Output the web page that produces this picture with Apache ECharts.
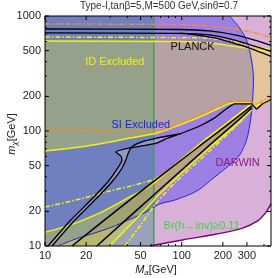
<!DOCTYPE html>
<html><head><meta charset="utf-8">
<script src="https://cdn.jsdelivr.net/npm/echarts@6/dist/echarts.min.js"></script>
<style>html,body{margin:0;padding:0;background:#fff}#c{width:274px;height:278px}</style>
</head><body><div id="c"></div>
<script>
// ---- axes ----
const xLimit = [10, 450];
const yLimit = [10, 1000];
const xTicksMajor = [10, 20, 50, 100, 200, 300];
const xTicksMinor = [30, 40, 60, 70, 80, 90, 400];
const yTicksMajor = [10, 20, 50, 100, 200, 500, 1000];
const yTicksMinor = [30, 40, 60, 70, 80, 90, 300, 400, 600, 700, 800, 900];
const higgsThreshold = 62.5;

// ---- curves (M_a [GeV], m_chi [GeV]) ----
const darwinCurve = [[58.4,10],[101.6,11.3],[180,12.7],[279,14.3],[359,16.5],[410,19.4],[450,23.2]];
const siCurve = [[224,1000],[265,787],[298,618],[324,414],[335,278],[330,186],[319,125],[298,83.5],[265,61.8],[224,50.6],[174,39.8],[129,30.1],[89,25.1],[69,23.2],[58.4,20.6],[49.4,18.6],[40.4,16.8],[30.8,14.6],[23.2,13.0],[17.4,11.7],[14.0,10.6],[12.4,10]];
const idTopSolid = [[10,606],[97,600],[160,582],[265,537],[450,484]];
const idUpperBoundary = [[10,67],[18,72.6],[29.8,80.2],[41.7,86.9],[65.7,96],[96.7,113],[135,132],[189,158.5],[236,175],[313,175],[347,165],[383,172],[450,188]];
const idLowerL = [[10,13.2],[15.22,15.2],[25.2,19.4],[41.7,26.7],[58.4,33.2],[85.9,48.6],[135.2,77.1],[224,122],[324.3,172]];
const idLowerR = [[29.8,10],[53.7,20.6],[69,28.3],[96.7,41.4],[160,71.2],[265,120],[324.3,152]];
const idLowerL2 = [[10,21.8],[18,25.6],[29.8,30.1],[45.4,33.9],[65.7,39],[96.7,54.8],[135.2,75.5],[224,122],[313.5,168]];
const idLowerR2 = [[38.4,10],[49.4,14.9],[63.5,22.7],[88.9,35.3],[160,67],[288,130]];
const planckTop1 = [[10,771],[96.7,763],[160,741],[243.7,684],[341,618],[450,556]];
const planckTop2 = [[10,712],[96.7,705],[160,684],[243.7,618],[341,548],[450,493]];
const planckTop3 = [[96.7,705],[114,697],[174,644],[265,560],[358.6,496],[450,446]];
const planckHook1 = [[10.52,10],[15.22,16.5],[22.03,25.6],[28.8,36],[34.1,47.7],[36.5,56],[35.9,60.6],[33.0,65.7],[41.7,71.2],[65.7,78.6],[79.1,86.9],[96.7,94.2],[135.2,110.5],[174.1,130],[216.6,158.5],[243.7,172],[324.3,172],[352.7,155.2],[390,172],[450,188]];
const planckHook2 = [[11.25,10],[16.28,16.5],[23.57,25.6],[30.8,36],[35.9,45.8],[39.0,56],[41.0,65.7],[43.9,74.1],[53.7,81.9],[65.7,86.9],[79.1,90.5],[96.7,94.2]];
const bandUpper = [[15.74,10],[32.4,19.8],[65.7,38.2],[135.2,74.1],[224,117],[324.3,165]];
const bandLower = [[23.97,10],[45.4,19.8],[85.9,39],[160,75.5],[265,127],[324.3,158.5]];
const orangeTop = [[10,851],[96.7,843],[189,802],[298,741],[450,652]];
const orangeMid = [[10,100],[65.7,100],[96.7,117],[135.2,138],[189,165],[235.6,182],[313.5,182],[352.7,172],[390,182],[450,199]];
const yellowTopDash = [[10,656],[135,644],[206,618],[288,571],[450,514]];

// ---- annotations ----
const annoTexts = ['ID Excluded', 'PLANCK', 'SI Excluded', 'DARWIN', 'Br(h\u2192inv)\u22650.11'];
const annoPos = [[32.4,398],[120.2,537],[50.2,113],[256.4,52.7],[140,14.9]];
const annoColors = ['#f2f200', '#111111', '#1c1cf0', '#8a1a8a', '#33dd33'];

const FONT = '"Liberation Sans", Arial, sans-serif';

// polygons built from curves
const darwinPoly = [[10,10]].concat(darwinCurve, [[450,1000],[10,1000]]);
const siPoly = [[10,1000]].concat(siCurve, [[10,10]]);
const greenPoly = [[10,10],[higgsThreshold,10],[higgsThreshold,1000],[10,1000]];
const id1Poly = idTopSolid.concat(idUpperBoundary.slice().reverse());
const id2Poly = idLowerL.concat(idLowerR.slice().reverse(), [[10,10]]);
const bandPoly = bandUpper.concat(bandLower.slice().reverse());
const hookPoly = planckHook1.slice(0, 12).concat(planckHook2.slice().reverse());

function polySeries(pts, fill, z) {
  return {
    type: 'custom', coordinateSystem: 'cartesian2d', z: z, silent: true, animation: false,
    data: [pts[0]],
    renderItem: function (params, api) {
      return { type: 'polygon', shape: { points: pts.map(function (p) { return api.coord(p); }) }, style: { fill: fill } };
    }
  };
}
function lineSeries(pts, color, width, type, z, smooth) {
  return {
    type: 'line', data: pts, symbol: 'none', showSymbol: false, silent: true, animation: false,
    smooth: smooth === undefined ? 0.3 : smooth, z: z,
    lineStyle: { color: color, width: width, type: type || 'solid' }
  };
}

const dashDot = [5, 2, 1.5, 2];

const series = [
  polySeries(darwinPoly, '#d8b0d8', 1),
  polySeries(siPoly, 'rgba(0,0,255,0.28)', 2),
  polySeries(greenPoly, 'rgba(10,130,110,0.3)', 3),
  polySeries(id1Poly, 'rgba(255,255,0,0.27)', 4),
  polySeries(id2Poly, 'rgba(255,255,0,0.27)', 5),
  polySeries(bandPoly, 'rgba(190,170,60,0.3)', 6),
  polySeries(hookPoly, 'rgba(200,200,215,0.35)', 7),
  lineSeries([[higgsThreshold,10],[higgsThreshold,1000]], '#3f9f5a', 1.5, 'solid', 10, false),
  lineSeries(siCurve, '#2222dd', 1, 'solid', 11),
  lineSeries(darwinCurve, '#800080', 1.5, 'solid', 11),
  lineSeries(idTopSolid, '#f5f500', 1.5, 'solid', 12),
  lineSeries(idUpperBoundary, '#f5f500', 1.5, 'solid', 12),
  lineSeries(idLowerL, '#f5f500', 1.5, 'solid', 12),
  lineSeries(idLowerR, '#f5f500', 1.5, 'solid', 12),
  lineSeries(idLowerL2, '#f5f500', 1.5, dashDot, 12),
  lineSeries(idLowerR2, '#f5f500', 1.5, dashDot, 12),
  lineSeries(yellowTopDash, '#f5f500', 1.5, dashDot, 12),
  lineSeries(orangeTop, '#ff8c1a', 1.5, dashDot, 13),
  lineSeries(orangeMid, '#ff8c1a', 1.5, dashDot, 13),
  lineSeries(planckTop1, '#000', 1.3, 'solid', 14),
  lineSeries(planckTop2, '#000', 1.3, 'solid', 14),
  lineSeries(planckTop3, '#000', 1.3, 'solid', 14),
  lineSeries(planckHook1, '#000', 1.3, 'solid', 14, 0.15),
  lineSeries(planckHook2, '#000', 1.3, 'solid', 14, 0.15),
  lineSeries(bandUpper, '#000', 1.5, 'solid', 14),
  lineSeries(bandLower, '#000', 1.5, 'solid', 14),
  {
    type: 'custom', coordinateSystem: 'cartesian2d', z: 20, silent: true, animation: false,
    data: annoPos.map(function (p, i) { return [p[0], p[1], i]; }),
    renderItem: function (params, api) {
      const i = api.value(2);
      const c = api.coord([api.value(0), api.value(1)]);
      return { type: 'text', x: c[0], y: c[1], style: { text: annoTexts[i], fill: annoColors[i], font: '11px ' + FONT, align: 'center', verticalAlign: 'middle' } };
    }
  },
  // ticks and tick labels
  {
    type: 'custom', coordinateSystem: 'cartesian2d', z: 30, silent: true, animation: false, clip: false,
    data: xTicksMajor.map(function (v) { return [v, 1]; }).concat(xTicksMinor.map(function (v) { return [v, 0]; })),
    renderItem: function (params, api) {
      const v = api.value(0), major = api.value(1) === 1;
      const b = api.coord([v, yLimit[0]]), t = api.coord([v, yLimit[1]]);
      const len = major ? 4 : 2;
      const ch = [
        { type: 'line', shape: { x1: b[0], y1: b[1], x2: b[0], y2: b[1] - len }, style: { stroke: '#000', lineWidth: 1 } },
        { type: 'line', shape: { x1: t[0], y1: t[1], x2: t[0], y2: t[1] + len }, style: { stroke: '#000', lineWidth: 1 } }
      ];
      if (major) ch.push({ type: 'text', x: b[0], y: b[1] + 4, style: { text: String(v), fill: '#222', font: '11px ' + FONT, align: 'center', verticalAlign: 'top' } });
      return { type: 'group', children: ch };
    }
  },
  {
    type: 'custom', coordinateSystem: 'cartesian2d', z: 30, silent: true, animation: false, clip: false,
    data: yTicksMajor.map(function (v) { return [1, v]; }).concat(yTicksMinor.map(function (v) { return [0, v]; })),
    renderItem: function (params, api) {
      const v = api.value(1), major = api.value(0) === 1;
      const l = api.coord([xLimit[0], v]), r = api.coord([xLimit[1], v]);
      const len = major ? 4 : 2;
      const ch = [
        { type: 'line', shape: { x1: l[0], y1: l[1], x2: l[0] + len, y2: l[1] }, style: { stroke: '#000', lineWidth: 1 } },
        { type: 'line', shape: { x1: r[0], y1: r[1], x2: r[0] - len, y2: r[1] }, style: { stroke: '#000', lineWidth: 1 } }
      ];
      if (major) ch.push({ type: 'text', x: l[0] - 4, y: l[1], style: { text: String(v), fill: '#222', font: '11px ' + FONT, align: 'right', verticalAlign: 'middle' } });
      return { type: 'group', children: ch };
    }
  }
];

const chart = echarts.init(document.getElementById('c'), null, { renderer: 'canvas' });
chart.setOption({
  animation: false,
  backgroundColor: '#fff',
  grid: { left: 45, right: 3, top: 16, bottom: 32, show: true, borderColor: '#000', borderWidth: 1, backgroundColor: 'transparent', z: 40 },
  xAxis: { type: 'log', logBase: 10, min: xLimit[0], max: xLimit[1], axisLine: { show: false }, axisTick: { show: false }, axisLabel: { show: false }, splitLine: { show: false } },
  yAxis: { type: 'log', logBase: 10, min: yLimit[0], max: yLimit[1], axisLine: { show: false }, axisTick: { show: false }, axisLabel: { show: false }, splitLine: { show: false } },
  graphic: [
    { type: 'text', x: 159, y: 6, style: { text: 'Type-I,tan\u03b2=5,M=500 GeV,sin\u03b8=0.7', fill: '#333', font: '10px ' + FONT, align: 'center', verticalAlign: 'middle' } },
    { type: 'text', x: 12, y: 134, rotation: Math.PI / 2, style: { text: '{i|m}{s|\u03c7}{n|[GeV]}', align: 'center', verticalAlign: 'middle', fill: '#222',
      rich: { i: { font: 'italic 11px ' + FONT, fill: '#222' }, s: { font: 'italic 8px ' + FONT, fill: '#222', verticalAlign: 'bottom', padding: [5, 0, 0, 0] }, n: { font: '11px ' + FONT, fill: '#222' } } } },
    { type: 'text', x: 156, y: 270, style: { text: '{i|M}{s|a}{n|[GeV]}', align: 'center', verticalAlign: 'middle', fill: '#222',
      rich: { i: { font: 'italic 11px ' + FONT, fill: '#222' }, s: { font: 'italic 8px ' + FONT, fill: '#222', verticalAlign: 'bottom', padding: [5, 0, 0, 0] }, n: { font: '11px ' + FONT, fill: '#222' } } } }
  ],
  series: series
});
</script></body></html>
